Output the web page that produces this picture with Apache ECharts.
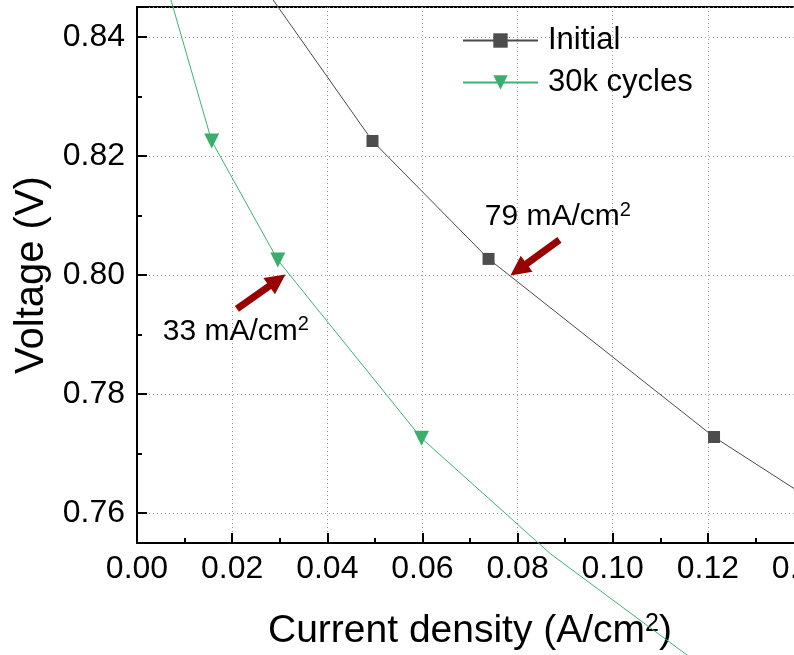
<!DOCTYPE html>
<html>
<head>
<meta charset="utf-8">
<script src="https://cdn.jsdelivr.net/npm/echarts@6/dist/echarts.min.js"></script>
<style>
html, body { margin: 0; padding: 0; background: #fff; }
#chart { width: 794px; height: 655px; }
</style>
</head>
<body>
<div id="chart"></div>
<script>
// polarization curve: initial vs after 30k cycles
var initialX = [0.0256, 0.0495, 0.0739, 0.1213, 0.1450];
var initialY = [0.8496, 0.8225, 0.8027, 0.7728, 0.7606];
var cycledX = [0.0059, 0.0157, 0.0296, 0.0598, 0.0869, 0.1156, 0.1265];
var cycledY = [0.8496, 0.8225, 0.8025, 0.7726, 0.7532, 0.7362, 0.7302];

var xMin = 0, xMax = 0.14, xStep = 0.02;
var yMin = 0.755, yMax = 0.845;

// arrows (tail -> head end) and the notes next to them
var arrowTails = [[0.0210, 0.7943], [0.0888, 0.8059]];
var arrowHeads = [[0.0295, 0.7991], [0.0802, 0.8009]];
var noteTexts = ['33 mA/cm{sup|2}', '79 mA/cm{sup|2}'];
var notePos = [[0.0053, 0.7905], [0.0730, 0.8097]];

var font = 'Liberation Sans, Arial, sans-serif';

function toPoints(xs, ys) {
	return xs.map(function (x, i) {
		var p = { value: [x, ys[i]] };
		// points outside the frame only feed the line
		if (x < xMin || x > xMax || ys[i] < yMin || ys[i] > yMax) {
			p.symbol = 'none';
		}
		return p;
	});
}

var arrowData = arrowTails.map(function (t, i) {
	return [{ coord: t }, { coord: arrowHeads[i] }];
});
var noteData = notePos.map(function (p, i) {
	return { coord: p, name: noteTexts[i] };
});

var tickLabel = { color: '#000', fontSize: 32, fontFamily: font };

var option = {
	backgroundColor: '#fff',
	animation: false,
	grid: {
		left: 137, top: 7, right: -9, bottom: 112,
		show: true, borderColor: '#000', borderWidth: 2,
		containLabel: false, outerBoundsMode: 'none'
	},
	legend: {
		orient: 'vertical',
		left: 462, top: 25,
		padding: 0,
		itemWidth: 75, itemHeight: 18, itemGap: 11,
		textStyle: { color: '#000', fontSize: 31, fontFamily: font, padding: [0, 0, 0, 5] },
		data: ['Initial', '30k cycles']
	},
	xAxis: {
		type: 'value',
		min: xMin, max: xMax, interval: xStep,
		name: 'Current density (A/cm{sup|2})',
		nameLocation: 'middle', nameGap: 69,
		nameTextStyle: {
			color: '#000', fontSize: 39, fontFamily: font,
			rich: { sup: { fontSize: 25, fontFamily: font, verticalAlign: 'top', color: '#000' } }
		},
		axisLine: { lineStyle: { color: '#000', width: 2 } },
		axisTick: { inside: true, length: 10, lineStyle: { color: '#000', width: 2 } },
		minorTick: { show: true, splitNumber: 2, length: 5, lineStyle: { color: '#000', width: 2 } },
		axisLabel: Object.assign({ margin: 10, formatter: function (v) { return v.toFixed(2); } }, tickLabel),
		splitLine: { show: true, lineStyle: { color: '#999', type: [1, 3], width: 1 } }
	},
	yAxis: {
		type: 'value',
		min: yMin, max: yMax,
		name: 'Voltage (V)',
		nameLocation: 'middle', nameGap: 56,
		nameTextStyle: { color: '#000', fontSize: 40, fontFamily: font },
		axisLine: { lineStyle: { color: '#000', width: 2 } },
		axisTick: { inside: true, length: 10, lineStyle: { color: '#000', width: 2 } },
		minorTick: { show: true, splitNumber: 2, length: 5, lineStyle: { color: '#000', width: 2 } },
		axisLabel: Object.assign({
			margin: 12, showMinLabel: false, showMaxLabel: false,
			formatter: function (v) { return v.toFixed(2); }
		}, tickLabel),
		splitLine: { show: true, lineStyle: { color: '#999', type: [1, 3], width: 1 } }
	},
	series: [
		{
			name: 'Initial',
			type: 'line',
			clip: false,
			data: toPoints(initialX, initialY),
			symbol: 'rect',
			symbolSize: 12,
			lineStyle: { color: '#4a4a4a', width: 1 },
			itemStyle: { color: '#4d4d4d' }
		},
		{
			name: '30k cycles',
			type: 'line',
			clip: false,
			data: toPoints(cycledX, cycledY),
			symbol: 'triangle',
			symbolRotate: 180,
			symbolSize: 15,
			lineStyle: { color: '#3cb371', width: 1 },
			itemStyle: { color: '#3aaf6c' },
			markLine: {
				silent: true,
				symbol: ['none', 'triangle'],
				symbolSize: [20, 20],
				label: { show: false },
				lineStyle: { color: '#990000', width: 7, type: 'solid' },
				data: arrowData
			},
			markPoint: {
				silent: true,
				symbol: 'circle',
				symbolSize: 1,
				itemStyle: { color: 'rgba(0,0,0,0)' },
				label: {
					show: true,
					position: 'right',
					distance: 0,
					color: '#000',
					fontSize: 30,
					lineHeight: 34,
					fontFamily: font,
					formatter: function (p) { return p.name; },
					rich: { sup: { fontSize: 20, lineHeight: 20, fontFamily: font, verticalAlign: 'top', color: '#000' } }
				},
				data: noteData
			}
		}
	]
};

var chart = echarts.init(document.getElementById('chart'));
chart.setOption(option);
</script>
</body>
</html>
